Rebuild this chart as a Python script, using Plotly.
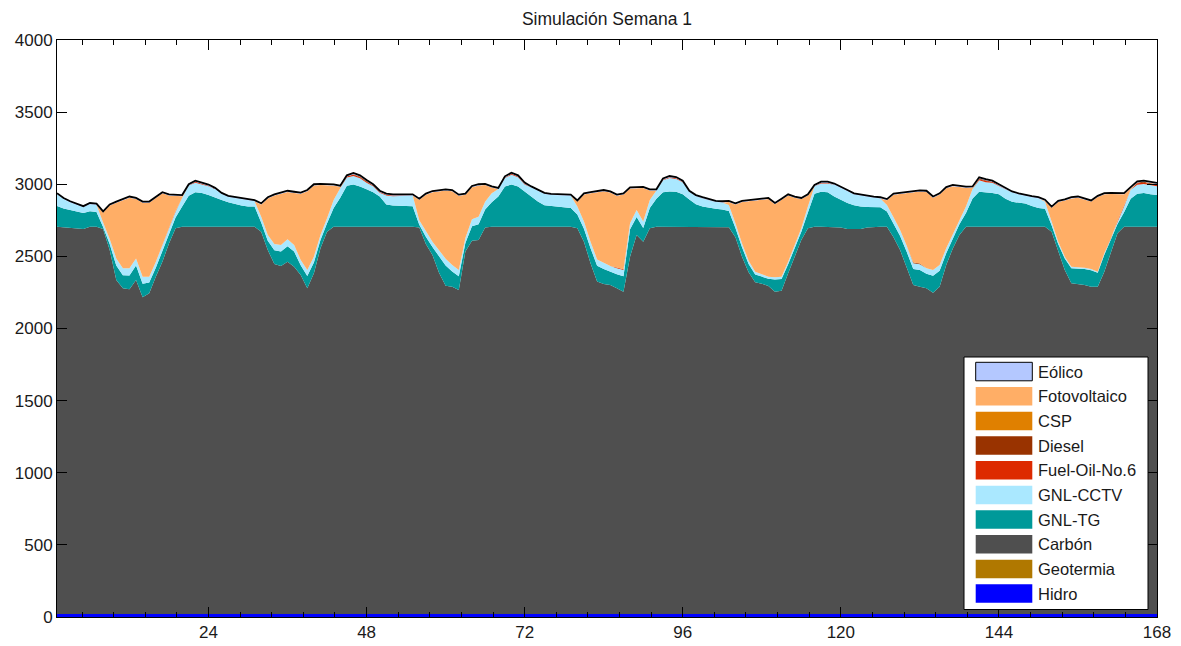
import plotly.graph_objects as go

# Hourly generation by technology for one simulated week (MW)
hours = list(range(1, 169))

hidro = [
    20, 20, 20, 20, 20, 20, 20, 20, 20, 20, 20, 20, 20, 20, 20, 20, 20, 20, 20, 20, 20, 20, 20, 20,
    20, 20, 20, 20, 20, 20, 20, 20, 20, 20, 20, 20, 20, 20, 20, 20, 20, 20, 20, 20, 20, 20, 20, 20,
    20, 20, 20, 20, 20, 20, 20, 20, 20, 20, 20, 20, 20, 20, 20, 20, 20, 20, 20, 20, 20, 20, 20, 20,
    20, 20, 20, 20, 20, 20, 20, 20, 20, 20, 20, 20, 20, 20, 20, 20, 20, 20, 20, 20, 20, 20, 20, 20,
    20, 20, 20, 20, 20, 20, 20, 20, 20, 20, 20, 20, 20, 20, 20, 20, 20, 20, 20, 20, 20, 20, 20, 20,
    20, 20, 20, 20, 20, 20, 20, 20, 20, 20, 20, 20, 20, 20, 20, 20, 20, 20, 20, 20, 20, 20, 20, 20,
    20, 20, 20, 20, 20, 20, 20, 20, 20, 20, 20, 20, 20, 20, 20, 20, 20, 20, 20, 20, 20, 20, 20, 20,
]

geotermia = [
    0, 0, 0, 0, 0, 0, 0, 0, 0, 0, 0, 0, 0, 0, 0, 0, 0, 0, 0, 0, 0, 0, 0, 0,
    0, 0, 0, 0, 0, 0, 0, 0, 0, 0, 0, 0, 0, 0, 0, 0, 0, 0, 0, 0, 0, 0, 0, 0,
    0, 0, 0, 0, 0, 0, 0, 0, 0, 0, 0, 0, 0, 0, 0, 0, 0, 0, 0, 0, 0, 0, 0, 0,
    0, 0, 0, 0, 0, 0, 0, 0, 0, 0, 0, 0, 0, 0, 0, 0, 0, 0, 0, 0, 0, 0, 0, 0,
    0, 0, 0, 0, 0, 0, 0, 0, 0, 0, 0, 0, 0, 0, 0, 0, 0, 0, 0, 0, 0, 0, 0, 0,
    0, 0, 0, 0, 0, 0, 0, 0, 0, 0, 0, 0, 0, 0, 0, 0, 0, 0, 0, 0, 0, 0, 0, 0,
    0, 0, 0, 0, 0, 0, 0, 0, 0, 0, 0, 0, 0, 0, 0, 0, 0, 0, 0, 0, 0, 0, 0, 0,
]

carbon = [
    2685, 2682, 2680, 2672, 2670, 2685, 2685, 2670, 2525, 2316, 2259, 2252,
    2316, 2196, 2224, 2339, 2443, 2570, 2675, 2685, 2685, 2685, 2685, 2685,
    2685, 2685, 2685, 2685, 2685, 2685, 2685, 2651, 2524, 2427, 2413, 2443,
    2408, 2351, 2259, 2363, 2536, 2651, 2686, 2686, 2686, 2686, 2686, 2686,
    2686, 2686, 2686, 2686, 2686, 2686, 2686, 2680, 2566, 2490, 2367, 2277,
    2270, 2247, 2513, 2589, 2593, 2680, 2686, 2686, 2686, 2686, 2686, 2686,
    2686, 2686, 2686, 2686, 2686, 2686, 2686, 2675, 2582, 2432, 2305, 2288,
    2282, 2259, 2235, 2478, 2628, 2582, 2675, 2685, 2685, 2685, 2685, 2685,
    2685, 2685, 2685, 2685, 2685, 2685, 2682, 2612, 2478, 2370, 2300, 2290,
    2275, 2235, 2242, 2363, 2478, 2593, 2675, 2685, 2685, 2685, 2685, 2680,
    2670, 2668, 2670, 2680, 2685, 2685, 2686, 2612, 2524, 2404, 2282, 2270,
    2259, 2228, 2270, 2420, 2535, 2628, 2686, 2686, 2686, 2686, 2686, 2686,
    2686, 2686, 2686, 2686, 2686, 2686, 2686, 2651, 2520, 2385, 2293, 2288,
    2282, 2270, 2270, 2374, 2501, 2640, 2686, 2686, 2686, 2686, 2686, 2686,
]

gnl_tg = [
    145, 130, 122, 120, 110, 107, 103, 14, 40, 100, 90, 95,
    100, 95, 75, 62, 75, 70, 75, 140, 215, 240, 235, 220,
    200, 185, 170, 157, 147, 141, 140, 64, 64, 95, 100, 108,
    105, 68, 85, 75, 57, 58, 130, 200, 284, 292, 279, 259,
    239, 209, 154, 146, 144, 144, 142, 20, 50, 55, 110, 140,
    105, 95, 60, 100, 110, 125, 170, 209, 279, 292, 279, 244,
    209, 174, 149, 144, 140, 139, 129, 95, 90, 105, 110, 105,
    92, 97, 108, 190, 125, 95, 140, 195, 240, 245, 243, 225,
    190, 157, 140, 130, 125, 120, 112, 65, 65, 58, 55, 50,
    50, 85, 82, 62, 60, 58, 110, 230, 243, 240, 210, 190,
    180, 167, 155, 142, 135, 135, 105, 95, 97, 108, 110, 115,
    100, 117, 110, 82, 68, 75, 95, 195, 242, 239, 234, 224,
    194, 172, 164, 160, 144, 129, 125, 45, 45, 80, 105, 108,
    111, 114, 96, 117, 92, 65, 100, 194, 229, 234, 224, 219,
]

gnl_cctv = [
    80, 65, 52, 46, 40, 50, 50, 30, 35, 50, 48, 50,
    50, 48, 40, 40, 43, 39, 40, 60, 72, 66, 58, 62,
    62, 42, 37, 42, 45, 44, 37, 40, 40, 44, 46, 47,
    46, 36, 41, 40, 35, 35, 55, 66, 56, 59, 56, 45,
    41, 26, 62, 65, 68, 74, 74, 30, 36, 37, 45, 47,
    45, 43, 34, 48, 52, 54, 61, 52, 58, 68, 63, 49,
    62, 72, 77, 75, 76, 77, 85, 55, 49, 45, 44, 43,
    39, 41, 42, 41, 48, 44, 56, 57, 82, 93, 88, 83,
    52, 55, 57, 52, 47, 49, 42, 32, 27, 22, 19, 16,
    14, 15, 15, 18, 21, 24, 40, 52, 57, 60, 82, 87,
    82, 74, 75, 70, 66, 62, 45, 44, 42, 42, 40, 40,
    38, 40, 40, 34, 32, 34, 44, 66, 79, 69, 71, 58,
    64, 64, 59, 52, 60, 67, 48, 25, 17, 13, 10, 8,
    8, 8, 8, 10, 12, 16, 39, 62, 62, 61, 61, 61,
]

fuel_oil = [
    0, 0, 0, 0, 0, 0, 0, 0, 0, 0, 0, 0, 0, 0, 0, 0, 0, 4, 4, 0, 0, 6, 6, 3,
    0, 0, 0, 0, 0, 0, 0, 0, 0, 0, 0, 0, 0, 0, 0, 0, 0, 0, 0, 0, 8, 8, 8, 8,
    6, 6, 5, 5, 4, 0, 0, 0, 0, 0, 0, 0, 0, 0, 0, 0, 0, 0, 0, 0, 4, 6, 6, 5,
    0, 0, 0, 0, 0, 0, 0, 0, 0, 0, 0, 0, 0, 6, 6, 0, 0, 0, 0, 0, 5, 6, 6, 4,
    0, 0, 0, 0, 0, 0, 0, 0, 0, 0, 0, 0, 0, 0, 0, 0, 0, 0, 0, 0, 5, 5, 0, 0,
    0, 0, 0, 0, 0, 0, 0, 0, 0, 0, 0, 0, 0, 0, 0, 0, 0, 0, 0, 0, 8, 8, 6, 4,
    3, 0, 0, 0, 0, 0, 0, 0, 0, 0, 0, 0, 0, 0, 0, 0, 0, 4, 4, 0, 10, 10, 10, 10,
]

diesel = [
    0, 0, 0, 0, 0, 0, 0, 0, 0, 0, 0, 0, 0, 0, 0, 0, 0, 0, 0, 0, 0, 0, 0, 0,
    0, 0, 0, 0, 0, 0, 0, 0, 0, 0, 0, 0, 0, 0, 0, 0, 0, 0, 0, 0, 0, 5, 5, 4,
    0, 0, 0, 0, 0, 0, 0, 0, 0, 0, 0, 0, 0, 0, 0, 0, 0, 0, 0, 0, 0, 0, 0, 0,
    0, 0, 0, 0, 0, 0, 0, 0, 0, 0, 0, 0, 0, 0, 0, 0, 0, 0, 0, 0, 0, 0, 0, 0,
    0, 0, 0, 0, 0, 0, 0, 0, 0, 0, 0, 0, 0, 0, 0, 0, 0, 0, 0, 0, 0, 0, 0, 0,
    0, 0, 0, 0, 0, 0, 0, 0, 0, 0, 6, 6, 0, 0, 0, 0, 0, 0, 0, 0, 5, 5, 0, 0,
    0, 0, 0, 0, 0, 0, 0, 0, 0, 0, 0, 0, 0, 0, 0, 0, 0, 0, 0, 0, 5, 6, 6, 6,
]

csp = [
    0, 0, 0, 0, 0, 0, 0, 0, 0, 0, 0, 0, 0, 0, 0, 0, 0, 0, 0, 0, 0, 0, 0, 0,
    0, 0, 0, 0, 0, 0, 0, 0, 0, 0, 0, 0, 0, 0, 0, 0, 0, 0, 0, 0, 0, 0, 0, 0,
    0, 0, 0, 0, 0, 0, 0, 0, 0, 0, 0, 0, 0, 0, 0, 0, 0, 0, 0, 0, 0, 0, 0, 0,
    0, 0, 0, 0, 0, 0, 0, 0, 0, 0, 0, 0, 0, 0, 0, 0, 0, 0, 0, 0, 0, 0, 0, 0,
    0, 0, 0, 0, 0, 0, 0, 0, 0, 0, 0, 0, 0, 0, 0, 0, 0, 0, 0, 0, 0, 0, 0, 0,
    0, 0, 0, 0, 0, 0, 0, 0, 0, 0, 0, 0, 0, 0, 0, 0, 0, 0, 0, 0, 0, 0, 0, 0,
    0, 0, 0, 0, 0, 0, 0, 0, 0, 0, 0, 0, 0, 0, 0, 0, 0, 0, 0, 0, 0, 0, 0, 0,
]

fotovoltaico = [
    0, 0, 0, 0, 0, 0, 0, 70, 232, 386, 470, 490,
    411, 513, 513, 441, 356, 219, 108, 12, 0, 0, 0, 0,
    0, 0, 0, 0, 0, 0, 0, 85, 254, 336, 358, 329,
    361, 459, 547, 494, 347, 228, 100, 10, 0, 0, 0, 0,
    0, 0, 0, 0, 0, 0, 0, 142, 255, 343, 410, 473,
    512, 515, 300, 223, 217, 115, 40, 0, 0, 0, 0, 0,
    0, 0, 0, 0, 0, 0, 0, 35, 188, 335, 465, 496,
    509, 497, 518, 241, 151, 233, 66, 0, 0, 0, 0, 0,
    0, 0, 0, 0, 0, 0, 21, 131, 287, 412, 491, 516,
    538, 507, 533, 459, 328, 202, 77, 0, 0, 0, 0, 0,
    0, 0, 0, 0, 0, 0, 33, 156, 249, 363, 486, 498,
    530, 502, 489, 416, 332, 225, 130, 10, 0, 0, 0, 0,
    0, 0, 0, 0, 0, 0, 6, 96, 275, 389, 474, 483,
    471, 468, 518, 409, 307, 188, 81, 10, 0, 0, 0, 0,
]

eolico = [
    8, 8, 8, 8, 8, 8, 8, 8, 8, 8, 8, 8, 8, 8, 8, 8, 8, 8, 8, 8, 8, 8, 8, 8,
    8, 8, 8, 8, 8, 8, 8, 8, 8, 8, 8, 8, 8, 8, 8, 8, 8, 8, 8, 8, 8, 8, 8, 8,
    8, 8, 8, 8, 8, 8, 8, 8, 8, 8, 8, 8, 8, 8, 8, 8, 8, 8, 8, 8, 8, 8, 8, 8,
    8, 8, 8, 8, 8, 8, 8, 8, 8, 8, 8, 8, 8, 8, 8, 8, 8, 8, 8, 8, 8, 8, 8, 8,
    8, 8, 8, 8, 8, 8, 8, 8, 8, 8, 8, 8, 8, 8, 8, 8, 8, 8, 8, 8, 8, 8, 8, 8,
    8, 8, 8, 8, 8, 8, 8, 8, 8, 8, 8, 8, 8, 8, 8, 8, 8, 8, 8, 8, 8, 8, 8, 8,
    8, 8, 8, 8, 8, 8, 8, 8, 8, 8, 8, 8, 8, 8, 8, 8, 8, 8, 8, 8, 8, 8, 8, 8,
]

# Stacking order, bottom to top: (name, values, colour)
series = [
    ("Hidro", hidro, "#0000ff"),
    ("Geotermia", geotermia, "#b07800"),
    ("Carbón", carbon, "#4f4f4f"),
    ("GNL-TG", gnl_tg, "#009999"),
    ("GNL-CCTV", gnl_cctv, "#aae8ff"),
    ("Fuel-Oil-No.6", fuel_oil, "#dd2a00"),
    ("Diesel", diesel, "#993300"),
    ("CSP", csp, "#e08000"),
    ("Fotovoltaico", fotovoltaico, "#ffae66"),
    ("Eólico", eolico, "#b4c8ff"),
]

FONT = "Liberation Sans, Arial, Helvetica, sans-serif"
TEXT = "#1a1a1a"
W, H = 1181, 646
ML, MR, MT, MB = 57, 24, 40, 29
PW, PH = W - ML - MR, H - MT - MB

fig = go.Figure()
for name, vals, col in series:
    edge = dict(color="black", width=1.8) if name == "Eólico" else dict(color=col, width=0)
    fig.add_trace(go.Scatter(
        x=hours, y=vals, name=name, mode="lines", stackgroup="gen",
        line=edge, fillcolor=col, showlegend=False,
    ))


def px_x(p):
    return (p - ML) / PW


def px_y(p):
    return (H - MB - p) / PH


# Legend box drawn on top of the plot area
shapes = [dict(type="rect", xref="paper", yref="paper",
               x0=px_x(964), x1=px_x(1148), y0=px_y(609.5), y1=px_y(357),
               line=dict(color="black", width=1), fillcolor="white", layer="above")]
annotations = []
for i, (name, vals, col) in enumerate(reversed(series)):
    top = 362.3 + 24.67 * i
    bot = top + 18.5
    border = dict(color="black", width=1) if name == "Eólico" else dict(width=0)
    shapes.append(dict(type="rect", xref="paper", yref="paper",
                       x0=px_x(975.7), x1=px_x(1032.3), y0=px_y(bot), y1=px_y(top),
                       line=border, fillcolor=col, layer="above"))
    annotations.append(dict(xref="paper", yref="paper", x=px_x(1036), y=px_y((top + bot) / 2),
                            text=name, showarrow=False, xanchor="left", yanchor="middle",
                            font=dict(family=FONT, size=16.5, color=TEXT)))

fig.update_layout(
    width=W, height=H, autosize=False,
    margin=dict(l=ML, r=MR, t=MT, b=MB, pad=0, autoexpand=False),
    paper_bgcolor="white", plot_bgcolor="white",
    title=dict(text="Simulación Semana 1", x=px_x(607), xref="paper", xanchor="center",
               y=1 - 19 / H, yref="container", yanchor="middle",
               font=dict(family=FONT, size=17.5, color=TEXT)),
    font=dict(family=FONT, size=17, color=TEXT),
    shapes=shapes, annotations=annotations,
    hovermode=False,
)
fig.update_xaxes(
    range=[1, 168], tick0=0, dtick=24, ticks="inside", ticklen=10, tickwidth=1,
    tickcolor="black", showline=True, linecolor="black", linewidth=1, mirror="ticks",
    showgrid=False, zeroline=False, automargin=False,
    minor=dict(tick0=0, dtick=4.8, ticks="inside", ticklen=5, tickwidth=1,
               tickcolor="black", showgrid=False),
    tickfont=dict(family=FONT, size=17, color=TEXT),
)
fig.update_yaxes(
    range=[0, 4000], tick0=0, dtick=500, ticks="inside", ticklen=10, tickwidth=1,
    tickcolor="black", showline=True, linecolor="black", linewidth=1, mirror="ticks",
    showgrid=False, zeroline=False, automargin=False,
    tickfont=dict(family=FONT, size=17, color=TEXT),
)

fig.write_html("out.html")
